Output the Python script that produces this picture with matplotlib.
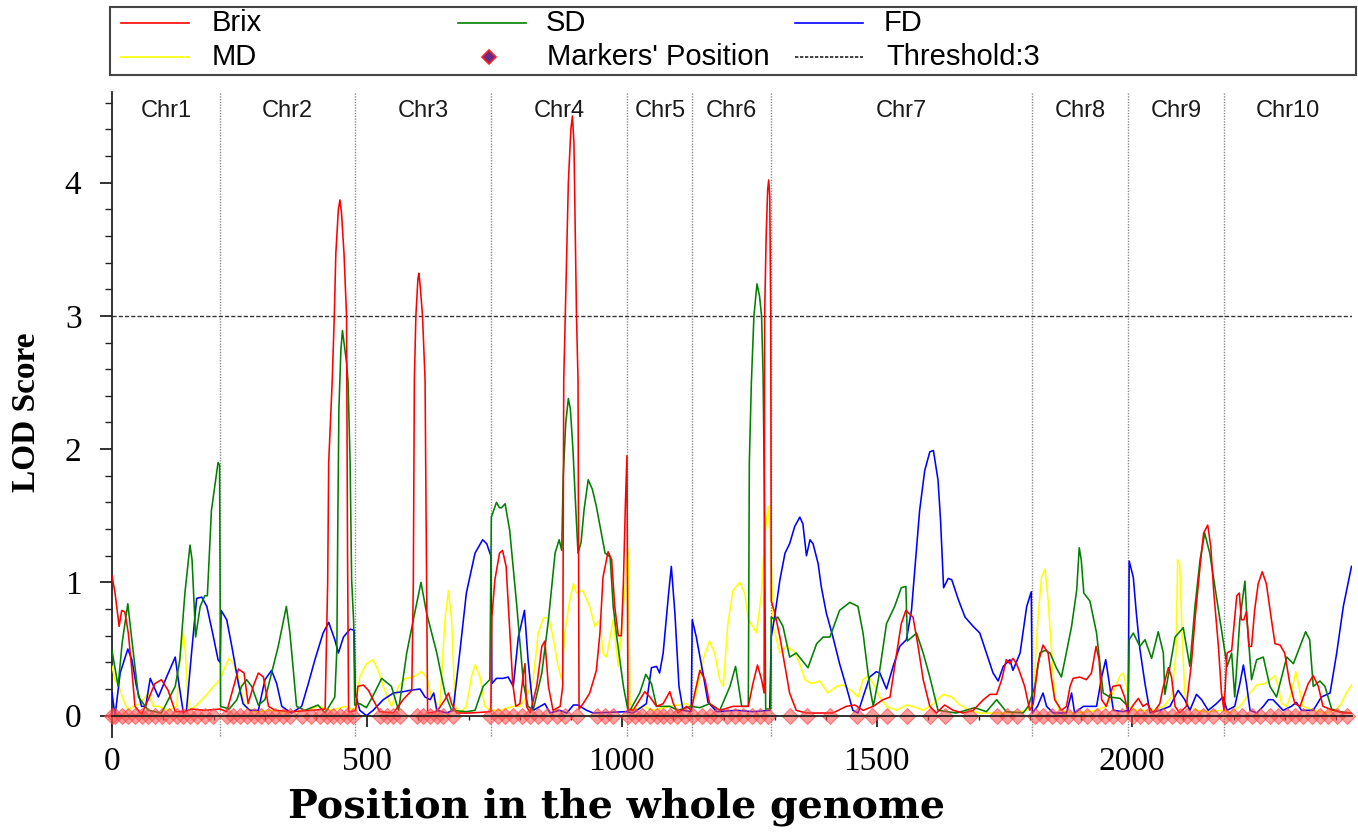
import matplotlib
matplotlib.use("Agg")
import matplotlib.pyplot as plt
from matplotlib.ticker import MultipleLocator
from matplotlib.lines import Line2D
from matplotlib.patches import Rectangle

# ---------------- data ----------------
chr_names = ["Chr1", "Chr2", "Chr3", "Chr4", "Chr5", "Chr6", "Chr7", "Chr8", "Chr9", "Chr10"]
chr_bounds = [0, 212, 476, 744, 1011, 1138, 1293, 1804, 1993, 2180, 2432]
threshold = 3

brix_pts = [(0,1.05),(6,0.92),(14,0.67),(19,0.79),(25,0.78),(32,0.62),(39,0.34),(45,0.07),(58,0.01),(71,0.12),(84,0.24),(97,0.27),(110,0.19),(124,0.03),(143,0.03),(156,0.05),(182,0.04),(212,0.05),(225,0.03),(235,0.17),(248,0.35),(259,0.32),(267,0.09),(277,0.22),(287,0.32),(297,0.29),(307,0.07),(320,0.04),(352,0.03),(392,0.04),(418,0.05),(421,0.6),(423,1.0),(425,1.9),(432,2.52),(436,3.0),(439,3.47),(444,3.8),(447,3.87),(450,3.78),(455,3.47),(460,3.0),(462,1.2),(464,0.03),(470,0.03),(478,0.04),(482,0.22),(493,0.23),(503,0.19),(512,0.12),(525,0.03),(552,0.02),(571,0.12),(588,0.19),(591,1.0),(593,2.52),(596,3.0),(600,3.28),(602,3.32),(605,3.2),(609,3.0),(614,2.52),(617,1.0),(619,0.02),(637,0.03),(653,0.12),(660,0.17),(666,0.09),(676,0.02),(702,0.02),(743,0.03),(745,0.74),(751,1.02),(760,1.22),(766,1.24),(773,1.12),(779,0.72),(786,0.24),(792,0.07),(800,0.09),(807,0.32),(810,0.39),(813,0.07),(820,0.02),(833,0.22),(843,0.52),(849,0.56),(856,0.22),(865,0.04),(879,0.07),(884,0.22),(886,2.52),(889,3.0),(895,4.0),(900,4.4),(903,4.5),(906,4.3),(911,3.0),(914,2.52),(916,0.05),(924,0.09),(937,0.17),(950,0.34),(957,0.62),(963,1.04),(973,1.23),(980,1.17),(986,0.82),(993,0.6),(999,0.6),(1003,1.0),(1007,1.6),(1010,1.95),(1012,0.05),(1022,0.04),(1035,0.12),(1045,0.18),(1055,0.14),(1068,0.07),(1081,0.09),(1094,0.18),(1101,0.09),(1110,0.02),(1127,0.07),(1136,0.04),(1143,0.17),(1153,0.34),(1163,0.27),(1172,0.09),(1192,0.04),(1218,0.07),(1248,0.07),(1257,0.24),(1266,0.38),(1274,0.27),(1279,0.17),(1280,3.0),(1283,3.6),(1286,3.95),(1288,4.02),(1290,3.9),(1292,3.0),(1293,0.86),(1300,0.77),(1310,0.59),(1320,0.37),(1329,0.17),(1342,0.04),(1362,0.02),(1414,0.02),(1440,0.07),(1457,0.08),(1473,0.04),(1493,0.07),(1512,0.12),(1526,0.14),(1539,0.47),(1548,0.69),(1557,0.79),(1565,0.76),(1571,0.74),(1581,0.52),(1591,0.27),(1604,0.07),(1617,0.02),(1633,0.08),(1650,0.04),(1669,0.02),(1689,0.04),(1709,0.12),(1722,0.16),(1735,0.16),(1745,0.27),(1754,0.42),(1761,0.39),(1767,0.43),(1774,0.39),(1781,0.32),(1790,0.22),(1800,0.04),(1807,0.09),(1816,0.39),(1826,0.53),(1836,0.47),(1843,0.27),(1849,0.12),(1862,0.04),(1872,0.07),(1879,0.22),(1885,0.28),(1898,0.29),(1911,0.27),(1921,0.32),(1930,0.52),(1936,0.42),(1941,0.12),(1950,0.07),(1963,0.22),(1977,0.23),(1986,0.14),(1993,0.02),(2003,0.08),(2013,0.13),(2022,0.07),(2030,0.09),(2042,0.02),(2055,0.09),(2062,0.22),(2072,0.36),(2078,0.29),(2085,0.07),(2094,0.02),(2107,0.07),(2117,0.39),(2124,0.72),(2134,1.12),(2141,1.37),(2149,1.43),(2155,1.27),(2161,0.92),(2170,0.52),(2176,0.17),(2181,0.04),(2187,0.47),(2196,0.49),(2206,0.9),(2211,0.92),(2215,0.72),(2220,0.72),(2225,0.78),(2230,0.52),(2235,0.52),(2241,0.79),(2248,0.99),(2256,1.08),(2264,0.99),(2274,0.72),(2281,0.54),(2291,0.53),(2300,0.47),(2310,0.24),(2320,0.09),(2330,0.07),(2346,0.24),(2356,0.3),(2366,0.22),(2375,0.07),(2395,0.04),(2415,0.02),(2431,0.02)]

sd_pts = [(0,0.49),(12,0.22),(20,0.55),(31,0.84),(38,0.6),(52,0.14),(71,0.04),(97,0.02),(124,0.22),(133,0.42),(143,0.92),(153,1.28),(157,1.17),(164,0.59),(173,0.82),(182,0.9),(187,0.9),(195,1.54),(208,1.9),(211,1.88),(213,0.07),(230,0.05),(245,0.12),(254,0.22),(264,0.27),(274,0.22),(287,0.08),(300,0.12),(313,0.32),(326,0.52),(342,0.82),(349,0.62),(362,0.07),(378,0.04),(404,0.08),(418,0.02),(437,0.14),(441,0.5),(443,1.5),(445,2.3),(449,2.75),(452,2.89),(455,2.8),(460,2.65),(463,2.5),(467,1.9),(470,1.02),(474,0.7),(476,0.08),(486,0.09),(499,0.06),(512,0.15),(529,0.28),(548,0.22),(562,0.04),(578,0.47),(591,0.72),(606,1.0),(617,0.77),(637,0.47),(653,0.17),(666,0.04),(695,0.03),(712,0.04),(728,0.22),(741,0.27),(744,1.49),(754,1.6),(760,1.56),(764,1.56),(771,1.59),(780,1.39),(794,0.82),(807,0.24),(816,0.07),(826,0.04),(843,0.32),(856,0.72),(869,1.22),(877,1.32),(882,1.24),(885,1.8),(890,2.2),(895,2.38),(899,2.3),(904,2.0),(909,1.6),(914,1.22),(920,1.3),(926,1.55),(934,1.77),(942,1.7),(950,1.57),(967,1.22),(977,1.19),(983,0.82),(990,0.59),(1003,0.22),(1012,0.04),(1016,0.04),(1035,0.17),(1047,0.31),(1058,0.24),(1068,0.07),(1094,0.07),(1110,0.04),(1136,0.07),(1153,0.06),(1172,0.09),(1192,0.04),(1212,0.22),(1223,0.37),(1235,0.07),(1248,0.07),(1250,1.9),(1254,2.5),(1259,3.0),(1265,3.24),(1270,3.15),(1274,3.0),(1277,2.55),(1280,1.5),(1282,0.05),(1292,0.05),(1293,0.74),(1300,0.72),(1306,0.74),(1316,0.67),(1329,0.44),(1342,0.47),(1365,0.36),(1382,0.54),(1395,0.59),(1408,0.59),(1427,0.79),(1447,0.85),(1463,0.82),(1473,0.62),(1486,0.22),(1493,0.07),(1503,0.27),(1519,0.69),(1535,0.82),(1548,0.96),(1557,0.97),(1560,0.56),(1578,0.62),(1591,0.47),(1604,0.29),(1620,0.04),(1656,0.02),(1692,0.06),(1715,0.03),(1735,0.12),(1754,0.03),(1787,0.02),(1797,0.07),(1810,0.22),(1820,0.47),(1830,0.49),(1840,0.47),(1852,0.36),(1862,0.29),(1869,0.42),(1882,0.67),(1892,0.94),(1897,1.26),(1901,1.17),(1906,0.92),(1918,0.86),(1931,0.62),(1944,0.17),(1957,0.14),(1977,0.13),(1993,0.07),(1995,0.57),(2003,0.62),(2016,0.52),(2026,0.57),(2039,0.43),(2052,0.63),(2062,0.47),(2065,0.16),(2075,0.37),(2085,0.59),(2101,0.66),(2114,0.37),(2124,0.82),(2134,1.17),(2143,1.37),(2153,1.22),(2163,0.97),(2173,0.72),(2181,0.52),(2187,0.37),(2196,0.47),(2202,0.14),(2212,0.72),(2222,1.01),(2226,0.72),(2235,0.27),(2245,0.42),(2258,0.44),(2271,0.22),(2284,0.14),(2304,0.44),(2317,0.39),(2330,0.52),(2341,0.63),(2349,0.57),(2356,0.22),(2369,0.26),(2379,0.22),(2392,0.05),(2408,0.03),(2431,0.02)]

fd_pts = [(0,0.17),(6,0.0),(16,0.32),(31,0.5),(39,0.42),(48,0.22),(58,0.07),(66,0.07),(75,0.28),(91,0.14),(107,0.29),(124,0.44),(130,0.27),(140,0.02),(146,0.04),(156,0.47),(166,0.88),(176,0.89),(186,0.82),(199,0.59),(208,0.42),(212,0.4),(214,0.79),(225,0.72),(235,0.52),(248,0.24),(257,0.09),(270,0.04),(287,0.04),(300,0.27),(313,0.34),(323,0.24),(333,0.07),(352,0.02),(372,0.07),(385,0.24),(398,0.42),(414,0.62),(425,0.7),(437,0.57),(444,0.47),(454,0.59),(467,0.65),(475,0.64),(477,0.17),(486,0.04),(499,0.0),(512,0.04),(532,0.12),(552,0.17),(571,0.18),(584,0.19),(604,0.2),(614,0.14),(624,0.12),(631,0.17),(637,0.04),(656,0.02),(669,0.04),(682,0.47),(695,0.92),(712,1.22),(727,1.32),(735,1.29),(743,1.2),(745,0.24),(754,0.28),(767,0.28),(777,0.29),(787,0.22),(797,0.59),(809,0.79),(816,0.42),(826,0.04),(849,0.09),(859,0.02),(878,0.04),(892,0.02),(905,0.08),(914,0.08),(931,0.04),(944,0.02),(1009,0.03),(1022,0.02),(1048,0.09),(1058,0.36),(1068,0.37),(1074,0.32),(1081,0.47),(1091,0.89),(1097,1.12),(1104,0.77),(1112,0.22),(1120,0.04),(1136,0.03),(1138,0.72),(1146,0.59),(1159,0.32),(1169,0.1),(1186,0.03),(1225,0.04),(1257,0.03),(1290,0.04),(1293,0.59),(1300,0.75),(1310,1.02),(1320,1.22),(1329,1.29),(1339,1.42),(1349,1.49),(1355,1.44),(1362,1.2),(1369,1.32),(1375,1.29),(1385,1.14),(1391,0.97),(1401,0.77),(1414,0.59),(1427,0.39),(1440,0.22),(1453,0.04),(1463,0.02),(1473,0.14),(1486,0.29),(1499,0.33),(1506,0.32),(1519,0.2),(1532,0.37),(1545,0.52),(1558,0.57),(1568,0.79),(1575,1.12),(1584,1.54),(1594,1.84),(1604,1.98),(1611,1.99),(1620,1.77),(1625,1.47),(1629,1.12),(1631,0.96),(1640,1.03),(1647,1.02),(1660,0.87),(1673,0.74),(1689,0.67),(1702,0.62),(1715,0.47),(1728,0.32),(1738,0.26),(1748,0.37),(1761,0.42),(1767,0.34),(1781,0.47),(1794,0.82),(1803,0.93),(1805,0.02),(1815,0.07),(1826,0.17),(1833,0.07),(1846,0.02),(1872,0.02),(1882,0.17),(1888,0.02),(1905,0.07),(1931,0.07),(1941,0.29),(1949,0.42),(1957,0.22),(1964,0.04),(1983,0.03),(1993,0.04),(1995,1.16),(2003,1.04),(2009,0.77),(2016,0.5),(2026,0.24),(2036,0.02),(2055,0.04),(2075,0.07),(2091,0.19),(2104,0.12),(2114,0.04),(2127,0.16),(2137,0.12),(2150,0.04),(2166,0.09),(2179,0.14),(2187,0.04),(2202,0.07),(2212,0.24),(2219,0.38),(2225,0.24),(2232,0.04),(2245,0.02),(2258,0.07),(2268,0.12),(2277,0.12),(2297,0.04),(2313,0.07),(2323,0.1),(2333,0.04),(2356,0.04),(2372,0.14),(2389,0.17),(2402,0.47),(2415,0.82),(2431,1.12)]

md_pts = [(0,0.37),(6,0.27),(14,0.22),(22,0.12),(32,0.04),(42,0.07),(55,0.09),(71,0.17),(81,0.07),(91,0.07),(110,0.04),(127,0.07),(133,0.42),(140,0.62),(144,0.47),(150,0.04),(163,0.07),(182,0.14),(199,0.22),(212,0.27),(222,0.37),(229,0.43),(238,0.39),(248,0.28),(261,0.07),(280,0.03),(313,0.04),(346,0.02),(378,0.04),(405,0.07),(431,0.04),(457,0.07),(476,0.04),(486,0.29),(499,0.39),(512,0.42),(522,0.34),(532,0.22),(548,0.07),(562,0.22),(575,0.28),(591,0.29),(607,0.33),(617,0.29),(627,0.14),(643,0.07),(653,0.72),(660,0.94),(666,0.72),(673,0.07),(682,0.02),(695,0.07),(705,0.29),(712,0.38),(722,0.29),(731,0.07),(743,0.04),(761,0.04),(787,0.07),(800,0.07),(813,0.14),(826,0.27),(836,0.62),(846,0.73),(856,0.74),(865,0.59),(875,0.37),(882,0.27),(888,0.62),(898,0.87),(905,0.99),(911,0.92),(923,0.94),(937,0.82),(947,0.67),(957,0.72),(963,0.47),(970,0.44),(983,0.72),(993,0.37),(1003,0.82),(1008,1.05),(1012,1.25),(1016,0.1),(1022,0.04),(1042,0.07),(1061,0.04),(1094,0.07),(1127,0.09),(1136,0.07),(1146,0.17),(1159,0.42),(1172,0.56),(1182,0.47),(1192,0.27),(1199,0.22),(1208,0.69),(1218,0.94),(1231,1.0),(1241,0.92),(1248,0.72),(1257,0.67),(1264,0.62),(1274,0.92),(1280,1.34),(1287,1.57),(1292,1.27),(1297,0.67),(1310,0.47),(1323,0.52),(1336,0.49),(1349,0.39),(1359,0.27),(1372,0.24),(1388,0.26),(1404,0.17),(1421,0.22),(1434,0.23),(1453,0.18),(1463,0.14),(1473,0.27),(1483,0.3),(1493,0.24),(1506,0.14),(1519,0.07),(1539,0.04),(1558,0.08),(1571,0.07),(1591,0.04),(1611,0.09),(1630,0.16),(1647,0.14),(1663,0.08),(1682,0.04),(1702,0.02),(1767,0.02),(1794,0.04),(1803,0.07),(1808,0.22),(1816,0.72),(1823,1.04),(1830,1.1),(1836,0.87),(1843,0.47),(1849,0.14),(1859,0.04),(1885,0.02),(1911,0.03),(1931,0.04),(1950,0.07),(1963,0.17),(1977,0.3),(1983,0.32),(1990,0.22),(1995,0.07),(2009,0.04),(2042,0.04),(2062,0.07),(2078,0.14),(2087,0.47),(2090,1.17),(2094,1.14),(2099,0.59),(2104,0.17),(2111,0.07),(2127,0.04),(2147,0.03),(2179,0.04),(2192,0.02),(2212,0.07),(2232,0.17),(2245,0.23),(2261,0.24),(2271,0.27),(2281,0.3),(2287,0.22),(2294,0.09),(2304,0.07),(2313,0.17),(2322,0.33),(2328,0.22),(2336,0.07),(2356,0.04),(2382,0.02),(2402,0.05),(2411,0.09),(2421,0.17),(2431,0.23)]

marker_pos = [0, 6, 20, 31, 45, 59, 71, 84, 98, 112, 127, 139, 153, 167, 182, 198, 225, 237, 251, 265, 278, 292, 305, 320, 335, 349, 372, 390, 408, 422, 433, 447, 461, 473, 525, 539, 551, 565, 598, 610, 623, 637, 649, 669,
              741, 757, 771, 786, 804, 820, 835, 853, 873, 888, 912, 951, 967, 982, 1012, 1025, 1039, 1055, 1069, 1080, 1094, 1108, 1124, 1139, 1157, 1173, 1186, 1206, 1222, 1237, 1255, 1271, 1286,
              1329, 1363, 1408, 1461, 1490, 1520, 1559, 1604, 1633, 1682, 1735, 1755, 1774,
              1810, 1825, 1843, 1859, 1875, 1894, 1912, 1931, 1947, 1963, 1980, 2002, 2016, 2031, 2049, 2061, 2078, 2094, 2108, 2124, 2139, 2159,
              2182, 2198, 2217, 2235, 2251, 2271, 2286, 2304, 2320, 2335, 2353, 2369, 2384, 2402, 2422]

series = [("Brix", brix_pts, "#ff0000"), ("SD", sd_pts, "#008000"), ("FD", fd_pts, "#0000ff"), ("MD", md_pts, "#ffff00")]

# ---------------- figure ----------------
W, H = 1358, 833
fig = plt.figure(figsize=(W / 100, H / 100), dpi=100)
ax = fig.add_axes([112 / W, 1 - 737 / H, (1352 - 112) / W, (737 - 92) / H])
ax.set_xlim(0, 2432)
ax.set_ylim(-0.16, 4.68)

serif = "Liberation Serif"
sans = "Liberation Sans"

# chromosome separators
ax.vlines(chr_bounds[1:-1], -0.15, 4.68, colors="#8c8c8c", linestyles=(0, (1, 1)), lw=1.0, zorder=1)
ax.axhline(threshold, color="#333333", lw=1.0, ls=(0, (3, 1.5)), zorder=2)

order = ["FD", "SD", "MD", "Brix"]
zord = {"FD": 3, "SD": 3.2, "MD": 2.8, "Brix": 3.5}
for name in order:
    for n, pts, col in series:
        if n == name:
            xs = [p[0] for p in pts]
            ys = [p[1] for p in pts]
            ax.plot(xs, ys, color=col, lw=1.15, zorder=zord[n])

ax.plot(marker_pos, [0] * len(marker_pos), ls="none", marker="D", ms=8.5,
        mfc=(1, 0.3, 0.3, 0.55), mec=(1, 0.25, 0.25, 0.6), mew=0.8, clip_on=False, zorder=6)

for i, name in enumerate(chr_names):
    mid = (chr_bounds[i] + chr_bounds[i + 1]) / 2
    ax.text(mid, 4.54, name, ha="center", va="center", fontsize=17, family=sans, color="#1a1a1a")

# axes styling
for s in ["top", "right"]:
    ax.spines[s].set_visible(False)
ax.spines["bottom"].set_position(("data", 0))
ax.spines["bottom"].set_zorder(7)
for s in ["bottom", "left"]:
    ax.spines[s].set_color("#222222")
    ax.spines[s].set_linewidth(1.3)

ax.xaxis.set_major_locator(MultipleLocator(500))
ax.xaxis.set_minor_locator(MultipleLocator(100))
ax.yaxis.set_major_locator(MultipleLocator(1))
ax.yaxis.set_minor_locator(MultipleLocator(0.2))
ax.tick_params(axis="x", which="major", length=8, width=1.3, color="#222222", pad=14, labelsize=24)
ax.tick_params(axis="x", which="minor", length=3, width=1.0, color="#222222")
ax.tick_params(axis="y", which="major", length=9, width=1.3, color="#222222", pad=13, labelsize=24)
ax.tick_params(axis="y", which="minor", length=5, width=1.0, color="#222222")
for lab in ax.get_xticklabels() + ax.get_yticklabels():
    lab.set_family(serif)

fig.text(616 / W, 1 - 807 / H, "Position in the whole genome", ha="center", va="center",
         fontsize=28.5, fontweight="bold", family="DejaVu Serif")
fig.text(27 / W, 1 - 412 / H, "LOD Score", ha="center", va="center", rotation=90,
         fontsize=24, fontweight="bold", family=serif)

# ---------------- legend (manual, figure pixels) ----------------
def fx(px):
    return px / W

def fy(py):
    return 1 - py / H

fig.patches.append(Rectangle((fx(110), fy(75)), fx(1356) - fx(110), fy(7) - fy(75),
                             transform=fig.transFigure, fill=False, ec="#444444", lw=1.5))
leg_rows = [
    [("line", "#ff0000", "-", 121, "Brix", 212), ("line", "#008000", "-", 458, "SD", 546), ("line", "#0000ff", "-", 795, "FD", 884)],
    [("line", "#ffff00", "-", 121, "MD", 212), ("marker", None, None, 489, "Markers' Position", 547), ("line", "#222222", (0, (2, 1)), 795, "Threshold:" + str(threshold), 886)],
]
row_y = [23, 57]
for r, row in enumerate(leg_rows):
    yy = fy(row_y[r])
    for kind, col, ls, hx, label, tx in row:
        if kind == "line":
            fig.lines.append(Line2D([fx(hx), fx(hx + 68)], [yy, yy], transform=fig.transFigure,
                                    color=col, ls=ls, lw=1.2))
        else:
            fig.lines.append(Line2D([fx(hx)], [yy], transform=fig.transFigure, ls="none",
                                    marker="D", ms=7, mfc="#6a2a8a", mec="#ff2020", mew=1.2))
        fig.text(fx(tx), yy, label, ha="left", va="center", fontsize=21, family=sans, color="black")

fig.savefig("out.png", dpi=100)
